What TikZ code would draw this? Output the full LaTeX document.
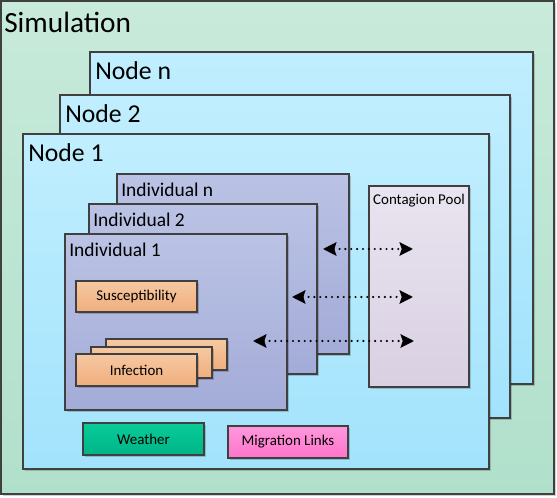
\documentclass[tikz,border=0pt]{standalone}
\usepackage{fontspec}
\setmainfont{Carlito}
\usetikzlibrary{fit,shadows,arrows.meta}
\definecolor{edge}{HTML}{404040}
\tikzset{
  box/.style={draw=edge, line width=0.9pt, inner sep=0pt,
    drop shadow={shadow xshift=1.8pt, shadow yshift=-1.8pt, fill=black, opacity=0.18}},
  simbox/.style={box, top color=simtop, bottom color=simbot},
  nodebox/.style={box, top color=nodetop, bottom color=nodebot},
  indbox/.style={box, top color=indtop, bottom color=indbot},
  poolbox/.style={box, top color=pooltop, bottom color=poolbot},
  orangebox/.style={box, top color=ortop, bottom color=orbot},
  weatherbox/.style={box, top color=wtop, bottom color=wbot},
  migbox/.style={box, top color=mtop, bottom color=mbot},
  bigtext/.style={anchor=north west, inner sep=0pt, font=\fontsize{22}{24}\selectfont},
  nodetext/.style={anchor=north west, inner sep=0pt, font=\fontsize{19.3}{22}\selectfont},
  indtext/.style={anchor=north west, inner sep=0pt, font=\fontsize{14.6}{16}\selectfont},
  smalltext/.style={inner sep=0pt, font=\fontsize{11.2}{13}\selectfont},
  link/.style={line width=1.8pt, dash pattern=on 0pt off 4.4pt, line cap=round,
    {Stealth[length=10pt,width=10pt,inset=1.5pt,line cap=butt]}-{Stealth[length=10pt,width=10pt,inset=1.5pt,line cap=butt]}, shorten <=0pt, shorten >=0pt},
}
\definecolor{simtop}{HTML}{C8EADB}
\definecolor{simbot}{HTML}{B0E0CB}
\definecolor{nodetop}{HTML}{C0EEFE}
\definecolor{nodebot}{HTML}{A2E3FC}
\definecolor{indtop}{HTML}{BAC3E4}
\definecolor{indbot}{HTML}{A3ABD8}
\definecolor{pooltop}{HTML}{E9E4F0}
\definecolor{poolbot}{HTML}{D9D0E2}
\definecolor{ortop}{HTML}{F6C8A2}
\definecolor{orbot}{HTML}{F0AE7C}
\definecolor{wtop}{HTML}{08CC98}
\definecolor{wbot}{HTML}{00B488}
\definecolor{mtop}{HTML}{FF98DC}
\definecolor{mbot}{HTML}{FF74CC}
\begin{document}
\begin{tikzpicture}[x=0.75pt,y=-0.75pt]
\useasboundingbox (0,0) rectangle (557,498);
% Simulation
\node[simbox, fit={(1,1)(554,494)}] (sim) {};
\node[bigtext] (simlabel) at (4,12) {Simulation};
% Nodes
\node[nodebox, fit={(90,52)(533,384)}] (noden) {};
\node[nodetext] (nodenlabel) at (95,61) {Node n};
\node[nodebox, fit={(60,95)(510,418)}] (node2) {};
\node[nodetext] (node2label) at (65,104) {Node 2};
\node[nodebox, fit={(23,134)(489,469)}] (node1) {};
\node[nodetext] (node1label) at (28,143) {Node 1};
% Individuals
\node[indbox, fit={(117,174)(349,354)}] (indn) {};
\node[indtext] (indnlabel) at (121,183) {Individual n};
\node[indbox, fit={(89,204)(317,374)}] (ind2) {};
\node[indtext] (ind2label) at (93,213) {Individual 2};
\node[indbox, fit={(65,234)(287,410)}] (ind1) {};
\node[indtext] (ind1label) at (69,243) {Individual 1};
% inner boxes
\node[orangebox, fit={(76,281)(197,312)}] (susc) {};
\node[smalltext] at (susc.center) {Susceptibility};
\node[orangebox, fit={(106,339)(227,370)}] (infc) {};
\node[orangebox, fit={(91,347)(212,378)}] (infb) {};
\node[orangebox, fit={(76,354)(197,386)}] (infa) {};
\node[smalltext] at (infa.center) {Infection};
% Contagion pool
\node[poolbox, fit={(369,186)(469,387)}] (pool) {};
\node[smalltext, anchor=north] (poollabel) at ([yshift=-6pt]pool.north) {Contagion Pool};
% bottom boxes
\node[weatherbox, fit={(83,423)(204,455)}] (weather) {};
\node[smalltext] at (weather.center) {Weather};
\node[migbox, fit={(228,426)(348,458)}] (mig) {};
\node[smalltext] at (mig.center) {Migration Links};
% links
\coordinate (a1) at (323,249);
\coordinate (b1) at (413,249);
\coordinate (a2) at (292,297);
\coordinate (b2) at (413,297);
\coordinate (a3) at (253,341);
\coordinate (b3) at (414,341);
\draw[link] (a1) -- (b1);
\draw[link] (a2) -- (b2);
\draw[link] (a3) -- (b3);
\end{tikzpicture}
\end{document}
